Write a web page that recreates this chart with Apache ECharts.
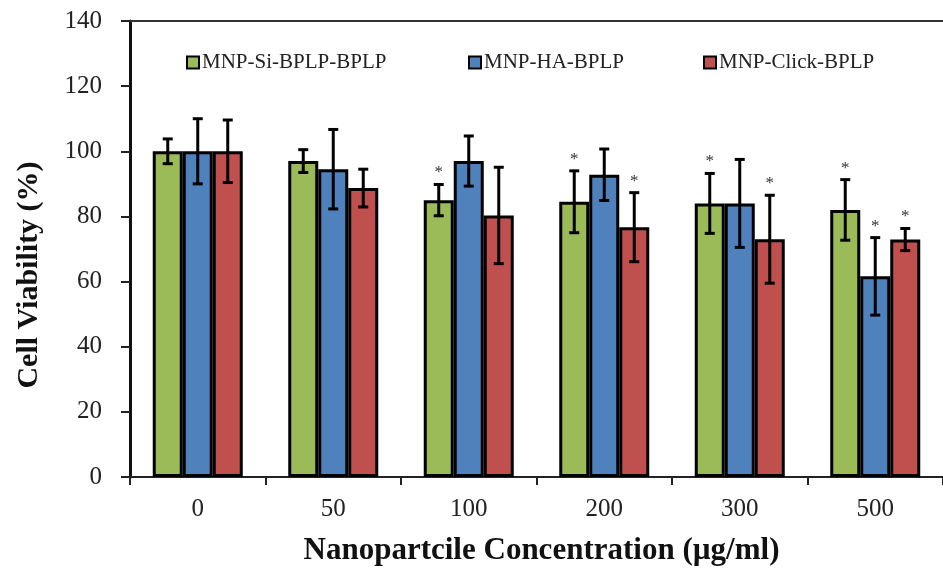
<!DOCTYPE html>
<html>
<head>
<meta charset="utf-8">
<script src="https://cdn.jsdelivr.net/npm/echarts@6/dist/echarts.min.js"></script>
<style>
  html, body { margin: 0; padding: 0; background: #fff; }
  #main { width: 943px; height: 571px; }
</style>
</head>
<body>
<div id="main"></div>
<script>
const categories = ['0', '50', '100', '200', '300', '500']
const seriesNames = ['MNP-Si-BPLP-BPLP', 'MNP-HA-BPLP', 'MNP-Click-BPLP']
const greenValues = [100, 97, 85, 84.5, 84, 82]
const blueValues = [100, 94.5, 97, 92.8, 84, 61.6]
const redValues = [100, 88.7, 80.3, 76.7, 73, 72.9]
const greenErr = [3.8, 3.5, 4.8, 9.5, 9.2, 9.3]
const blueErr = [10, 12.2, 7.7, 7.9, 13.5, 11.9]
const redErr = [9.6, 5.8, 14.8, 10.6, 13.5, 3.4]
// significance stars
const greenStar = [0, 0, 1, 1, 1, 1]
const blueStar = [0, 0, 0, 0, 0, 1]
const redStar = [0, 0, 0, 1, 1, 1]
const yTicks = [0, 20, 40, 60, 80, 100, 120, 140]

const colors = ['#9BBB59', '#4F81BD', '#C0504D']
const font = '"Liberation Serif", "Times New Roman", serif'
const barWidth = 30
// one legend per series so each one sits where the original puts it
const legendLeft = [181, 463, 698]

const chart = echarts.init(document.getElementById('main'))

function errorSeries(values, errs, stars, idx) {
  const offset = (idx - 1) * barWidth
  return {
    type: 'custom',
    name: seriesNames[idx] + ' err',
    z: 10,
    silent: true,
    data: values.map((v, i) => [i, v, errs[i], stars[i]]),
    renderItem: (params, api) => {
      const i = api.value(0)
      const v = api.value(1)
      const e = api.value(2)
      const top = api.coord([i, v + e])
      const bot = api.coord([i, v - e])
      const x = top[0] + offset
      const cap = 5
      const style = { stroke: '#000', lineWidth: 3 }
      const children = [
        { type: 'line', shape: { x1: x, y1: top[1], x2: x, y2: bot[1] }, style },
        { type: 'line', shape: { x1: x - cap, y1: top[1], x2: x + cap, y2: top[1] }, style },
        { type: 'line', shape: { x1: x - cap, y1: bot[1], x2: x + cap, y2: bot[1] }, style }
      ]
      if (api.value(3)) {
        children.push({
          type: 'text',
          style: {
            text: '*', x: x, y: top[1] - 3,
            align: 'center', verticalAlign: 'bottom',
            fill: '#333', font: '17px ' + font
          }
        })
      }
      return { type: 'group', children }
    }
  }
}

function barSeries(values, idx) {
  return {
    name: seriesNames[idx],
    type: 'bar',
    data: values,
    barWidth: barWidth,
    barGap: '0%',
    itemStyle: { color: colors[idx], borderColor: '#000', borderWidth: 3 }
  }
}

chart.setOption({
  animation: false,
  textStyle: { fontFamily: font },
  legend: seriesNames.map((n, i) => ({
    top: 47,
    left: legendLeft[i],
    itemWidth: 12,
    itemHeight: 12,
    data: [{
      name: n,
      icon: 'rect',
      itemStyle: { color: colors[i], borderColor: '#000', borderWidth: 2 }
    }],
    textStyle: { fontFamily: font, fontSize: 21, color: '#222', padding: [0, 0, 0, -2] }
  })),
  grid: { left: 130, right: -5, top: 21, bottom: 94 },
  xAxis: [
    {
      type: 'category',
      data: categories,
      axisLine: { lineStyle: { color: '#222', width: 2 } },
      axisTick: { show: true, length: 8, lineStyle: { color: '#222', width: 2 } },
      axisLabel: { fontFamily: font, fontSize: 25, color: '#222', margin: 20 },
      name: 'Nanopartcile Concentration (µg/ml)',
      nameLocation: 'middle',
      nameGap: 58,
      nameTextStyle: { fontFamily: font, fontSize: 31, fontWeight: 'bold', color: '#111', padding: [0, 0, 0, 10] }
    },
    {
      type: 'category',
      data: categories,
      position: 'top',
      axisLine: { show: true, lineStyle: { color: '#333', width: 2 } },
      axisTick: { show: false },
      axisLabel: { show: false }
    }
  ],
  yAxis: {
    type: 'value',
    min: 0,
    max: 140,
    interval: 20,
    axisLine: { show: true, lineStyle: { color: '#111', width: 3 } },
    axisTick: { show: true, length: 9, lineStyle: { color: '#222', width: 2 } },
    splitLine: { show: false },
    axisLabel: {
      fontFamily: font, fontSize: 25, color: '#222', margin: 28,
      formatter: v => yTicks.includes(v) ? String(v) : ''
    },
    name: 'Cell Viability (%)',
    nameLocation: 'middle',
    nameGap: 86,
    nameTextStyle: { fontFamily: font, fontSize: 30, fontWeight: 'bold', color: '#111', padding: [0, 52, 0, 0] }
  },
  series: [
    barSeries(greenValues, 0),
    barSeries(blueValues, 1),
    barSeries(redValues, 2),
    errorSeries(greenValues, greenErr, greenStar, 0),
    errorSeries(blueValues, blueErr, blueStar, 1),
    errorSeries(redValues, redErr, redStar, 2)
  ]
})
</script>
</body>
</html>
